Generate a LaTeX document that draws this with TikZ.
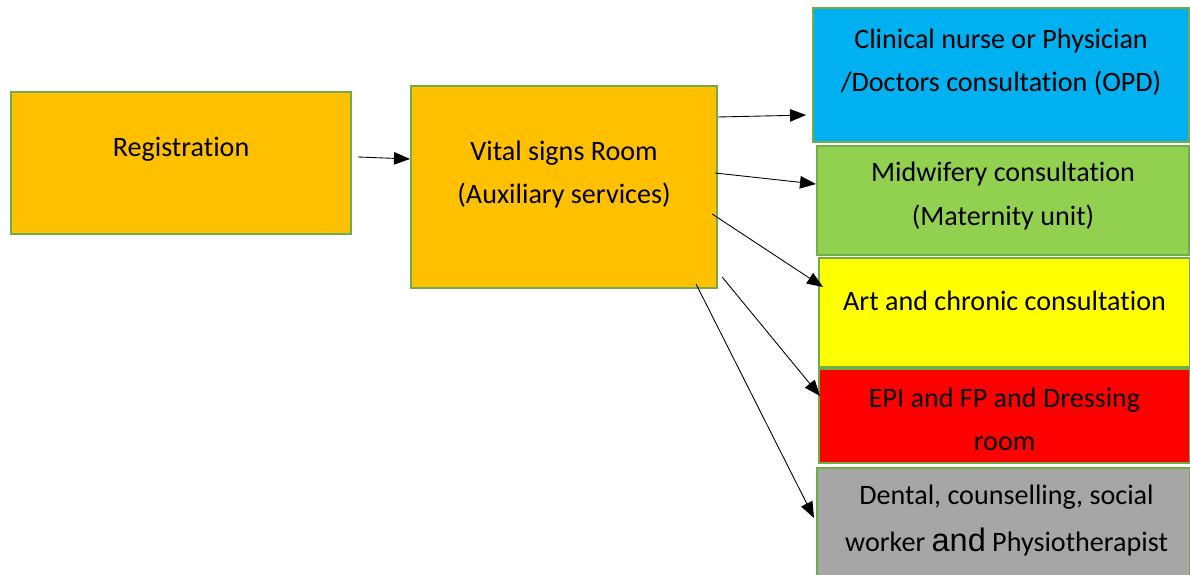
\documentclass[tikz,border=0pt]{standalone}
\usepackage{fontspec}
\setmainfont[Ligatures=NoCommon]{Carlito}
\newfontfamily\arialfont{Liberation Sans}
\usetikzlibrary{positioning, arrows.meta}

\definecolor{boxline}{HTML}{70AD47}
\definecolor{orangebox}{HTML}{FFC000}
\definecolor{bluebox}{HTML}{00B0F0}
\definecolor{greenbox}{HTML}{92D050}
\definecolor{yellowbox}{HTML}{FFFF00}
\definecolor{redbox}{HTML}{FF0000}
\definecolor{graybox}{HTML}{A6A6A6}

\begin{document}
\begin{tikzpicture}[
        room/.style={draw=boxline, line width=1.2pt, anchor=north west, inner sep=0pt},
        txt/.style={align=center, font=\fontsize{16pt}{24.5pt}\selectfont, inner sep=0pt},
        link/.style={-{Triangle[length=0.32cm, width=0.25cm]}, line width=0.5pt}
    ]
    \useasboundingbox (0,0) rectangle (23.8,-11.5);

    % Left column
    \node[room, fill=orangebox, minimum width=6.8cm, minimum height=2.84cm] (reg) at (0.2,-1.82) {};
    \node[txt] (regtext) at ([yshift=-1.17cm]reg.north) {Registration};

    \node[room, fill=orangebox, minimum width=6.12cm, minimum height=4.04cm] (vital) at (8.2,-1.7) {};
    \node[txt] (vitaltext) at ([yshift=-1.79cm]vital.north) {Vital signs Room\\(Auxiliary services)};

    % Right column: consultation rooms
    \node[room, fill=bluebox, minimum width=7.52cm, minimum height=2.68cm] (opd) at (16.24,-0.14) {};
    \node[txt] (opdtext) at ([yshift=-1.11cm]opd.north) {Clinical nurse or Physician\\/Doctors consultation (OPD)};

    \node[room, fill=greenbox, minimum width=7.44cm, minimum height=2.18cm] (mid) at (16.32,-2.9) {};
    \node[txt] (midtext) at ([yshift=-1.02cm]mid.north) {Midwifery consultation\\(Maternity unit)};

    \node[room, fill=yellowbox, minimum width=7.42cm, minimum height=2.18cm] (art) at (16.36,-5.14) {};
    \node[txt] (arttext) at ([yshift=-0.88cm]art.north) {Art and chronic consultation};

    \node[room, fill=redbox, minimum width=7.42cm, minimum height=1.88cm] (epi) at (16.36,-7.36) {};
    \node[txt] (epitext) at ([yshift=-1.02cm]epi.north) {EPI and FP and Dressing\\room};

    \node[room, fill=graybox, minimum width=7.46cm, minimum height=2.3cm] (dent) at (16.32,-9.34) {};
    \node[txt, font=\fontsize{16pt}{26.5pt}\selectfont] (denttext) at ([xshift=0.06cm, yshift=-1.07cm]dent.north) {Dental, counselling, social\\worker {\arialfont\fontsize{18.5pt}{26.5pt}\selectfont and} Physiotherapist};

    % Links
    \draw[link] ([xshift=0.12cm, yshift=-1.32cm]reg.north east) -- ([yshift=-1.48cm]vital.north west);
    \draw[link] ([yshift=-0.64cm]vital.north east) -- ([xshift=-0.12cm, yshift=-0.8cm]opd.west);
    \draw[link] ([xshift=-0.06cm, yshift=-1.76cm]vital.north east) -- ([yshift=0.33cm]mid.west);
    \draw[link] ([xshift=-0.12cm, yshift=-2.58cm]vital.north east) -- ([xshift=0.1cm, yshift=-0.6cm]art.north west);
    \draw[link] ([xshift=0.08cm, yshift=-3.84cm]vital.north east) -- ([xshift=0.04cm, yshift=-0.56cm]epi.north west);
    \draw[link] ([xshift=-0.44cm, yshift=0.1cm]vital.south east) -- ([xshift=-0.04cm, yshift=-1.02cm]dent.north west);

\end{tikzpicture}
\end{document}
